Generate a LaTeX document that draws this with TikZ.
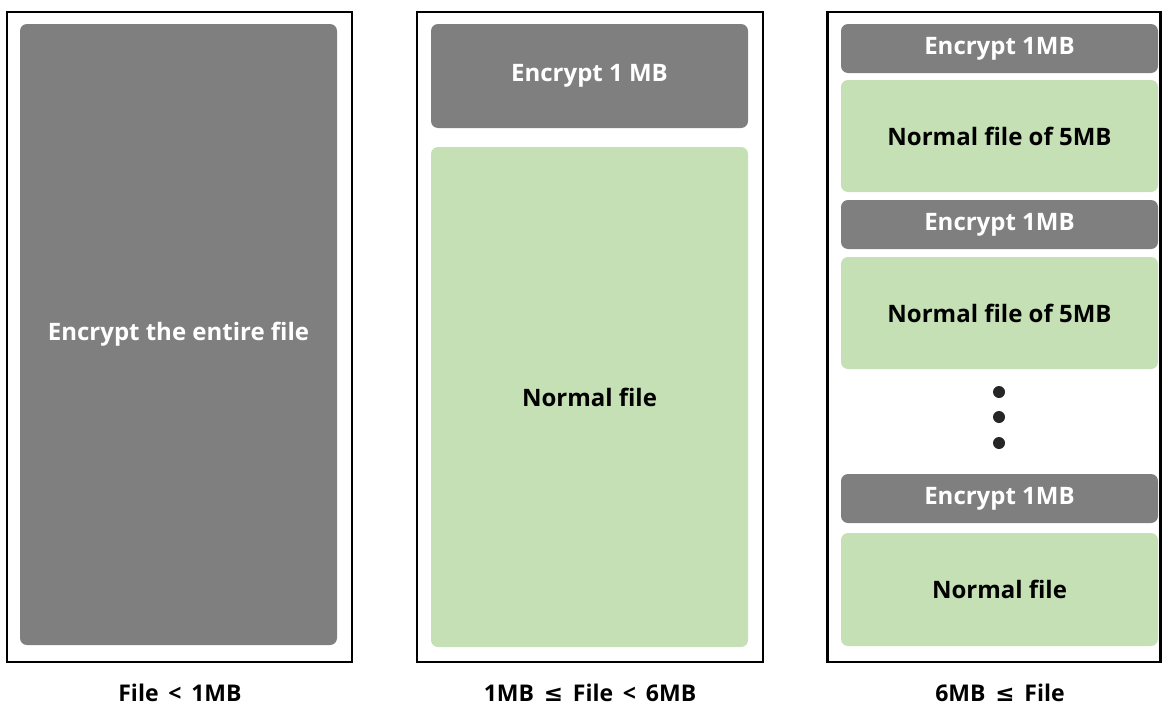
\documentclass[tikz,border=0pt]{standalone}
\usepackage{fontspec}
\setmainfont{Open Sans}
\newfontfamily\symfont{DejaVu Sans}
\newcommand{\leqsym}{{\symfont\bfseries ≤}}
\definecolor{encgray}{HTML}{7F7F7F}
\definecolor{normgreen}{HTML}{C5E0B4}
\begin{document}
\begin{tikzpicture}[x=1pt,y=-1pt,
  frame/.style={draw=black,line width=2.7pt,inner sep=0pt,fill=none},
  encbox/.style={fill=encgray,rounded corners=7pt,inner sep=0pt,text=white,font=\fontsize{24}{26}\selectfont\bfseries},
  normbox/.style={fill=normgreen,rounded corners=7pt,inner sep=0pt,text=black,font=\fontsize{24}{26}\selectfont\bfseries},
  caption/.style={text=black,inner sep=0pt,font=\fontsize{23}{26}\selectfont\bfseries},
  dot/.style={circle,fill=black!85,inner sep=0pt,minimum size=12pt}]
\useasboundingbox (0,0) rectangle (1163,707);
% panel 1
\node[frame,minimum width=345pt,minimum height=650pt] (f1) at (179.5,337) {};
\node[encbox,minimum width=317pt,minimum height=621pt] (e1) at (178.5,334.5) {Encrypt the entire file};
\node[caption] (c1) at (180,693) {File \,<\, 1MB};
% panel 2
\node[frame,minimum width=346pt,minimum height=650pt] (f2) at (590,337) {};
\node[encbox,minimum width=317pt,minimum height=104pt] (e2) at (589.5,76) {Encrypt 1 MB};
\node[normbox,minimum width=317pt,minimum height=500pt] (n2) at (589.5,397) {Normal file};
\node[caption] (c2) at (590,693) {1MB \,\leqsym\, File \,<\, 6MB};
% panel 3
\node[frame,minimum width=333pt,minimum height=650pt] (f3) at (994,337) {};
\node[encbox,minimum width=317pt,minimum height=49pt] (e31) at (999.5,48.5) {Encrypt 1MB};
\node[normbox,minimum width=317pt,minimum height=112pt] (n31) at (999.5,136) {Normal file of 5MB};
\node[encbox,minimum width=317pt,minimum height=49pt] (e32) at (999.5,224.5) {Encrypt 1MB};
\node[normbox,minimum width=317pt,minimum height=112pt] (n32) at (999.5,313) {Normal file of 5MB};
\node[dot] (d1) at (999,392) {};
\node[dot] (d2) at (999,417) {};
\node[dot] (d3) at (999,443) {};
\node[encbox,minimum width=317pt,minimum height=49pt] (e33) at (999.5,498.5) {Encrypt 1MB};
\node[normbox,minimum width=317pt,minimum height=113pt] (n33) at (999.5,589.5) {Normal file};
\node[caption] (c3) at (1000,693) {6MB \,\leqsym\, File};
\end{tikzpicture}
\end{document}
